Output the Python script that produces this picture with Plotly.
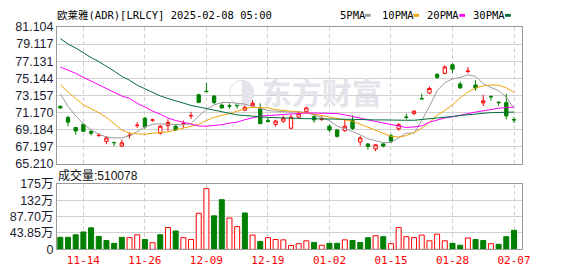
import plotly.graph_objects as go

# ---------------- data ----------------
dates = ["11-11", "11-12", "11-13", "11-14", "11-15", "11-18", "11-19", "11-20", "11-21", "11-22",
         "11-25", "11-26", "11-27", "11-29", "12-02", "12-03", "12-04", "12-05", "12-06", "12-09",
         "12-10", "12-11", "12-12", "12-13", "12-16", "12-17", "12-18", "12-19", "12-20", "12-23",
         "12-24", "12-26", "12-27", "12-30", "12-31", "01-02", "01-03", "01-06", "01-07", "01-08",
         "01-10", "01-13", "01-14", "01-15", "01-16", "01-17", "01-21", "01-22", "01-23", "01-24",
         "01-27", "01-28", "01-29", "01-30", "01-31", "02-03", "02-04", "02-05", "02-06", "02-07"]

open_ = [71.90, 70.62, 69.45, 69.82, 68.98, 68.52, 67.84, 67.72, 67.30, 68.52,
         69.68, 70.51, 70.30, 68.79, 69.67, 69.60, 69.87, 70.80, 73.25, 73.65,
         73.10, 72.05, 71.96, 72.10, 71.46, 71.97, 71.64, 70.25, 69.81, 70.18,
         69.37, 70.65, 71.28, 70.70, 70.36, 69.60, 69.16, 69.09, 70.26, 67.77,
         67.55, 66.97, 67.55, 68.50, 69.30, 70.66, 71.06, 72.80, 73.43, 75.62,
         75.73, 76.72, 74.49, 75.95, 74.38, 72.30, 73.05, 72.37, 72.33, 70.37]
high = [72.00, 70.80, 69.52, 69.96, 69.16, 68.79, 68.43, 67.74, 68.06, 68.87,
        70.07, 70.70, 70.47, 69.78, 70.40, 69.74, 70.26, 71.28, 73.36, 74.64,
        73.18, 72.23, 72.26, 72.26, 72.08, 72.63, 72.26, 70.55, 70.35, 70.80,
        70.91, 71.36, 71.94, 70.99, 70.80, 69.82, 69.30, 70.33, 70.88, 68.43,
        67.62, 67.51, 67.66, 68.72, 69.96, 71.06, 71.42, 73.36, 74.20, 75.73,
        76.68, 76.90, 74.75, 76.46, 74.93, 73.25, 73.18, 72.52, 73.36, 70.70]
low = [71.64, 69.60, 68.61, 68.98, 68.54, 68.36, 67.51, 67.30, 67.19, 68.17,
       69.41, 69.30, 70.11, 68.61, 69.05, 69.05, 69.41, 70.44, 72.26, 73.54,
       72.15, 71.64, 71.64, 71.64, 71.35, 71.79, 69.85, 70.02, 69.55, 69.99,
       69.26, 70.47, 71.06, 70.00, 70.26, 68.94, 68.28, 68.98, 69.16, 67.33,
       66.89, 66.71, 67.15, 67.62, 69.08, 70.40, 70.91, 72.74, 73.32, 75.08,
       75.62, 75.73, 73.91, 75.73, 73.72, 71.94, 72.55, 71.97, 70.40, 69.96]
close = [71.72, 70.07, 69.05, 69.01, 68.79, 68.55, 68.25, 67.70, 67.67, 68.55,
         69.71, 69.52, 70.33, 69.60, 70.04, 69.16, 69.89, 70.84, 72.37, 73.61,
         72.34, 71.72, 71.93, 71.97, 71.79, 72.26, 69.89, 70.15, 70.20, 70.54,
         70.65, 71.09, 71.72, 70.33, 70.40, 69.16, 68.43, 69.60, 69.34, 68.25,
         67.26, 67.44, 67.30, 67.88, 69.78, 70.62, 71.35, 72.77, 73.98, 75.26,
         76.46, 76.21, 74.05, 75.99, 74.02, 72.55, 73.00, 72.33, 70.80, 70.33]
volume = [322000, 322000, 390000, 466000, 576000, 347000, 237000, 161000, 322000, 313000,
          390000, 263000, 178000, 390000, 584000, 491000, 313000, 263000, 966000, 1626000,
          898000, 1330000, 839000, 610000, 974000, 381000, 212000, 313000, 263000, 254000,
          102000, 152000, 229000, 186000, 110000, 161000, 161000, 254000, 237000, 186000,
          313000, 364000, 339000, 152000, 584000, 339000, 313000, 381000, 229000, 407000,
          229000, 161000, 110000, 305000, 263000, 237000, 152000, 136000, 339000, 510078]

ma5 = [73.36, 71.90, 70.80, 69.89, 69.16, 68.68, 68.36, 68.25, 68.25, 68.50,
       68.98, 69.52, 69.82, 69.89, 69.82, 69.82, 69.78, 69.89, 70.80, 71.53,
       72.08, 72.34, 72.37, 72.26, 72.15, 71.90, 71.64, 71.42, 71.35, 71.28,
       71.24, 71.28, 71.17, 70.91, 70.62, 70.26, 69.60, 69.34, 68.98, 68.61,
       68.14, 67.88, 67.70, 67.70, 68.25, 68.79, 68.79, 70.26, 71.90, 73.72,
       74.64, 75.08, 75.26, 75.55, 75.37, 74.53, 74.09, 73.72, 72.99, 71.64]
ma10 = [74.38, 73.54, 72.81, 72.08, 71.64, 71.17, 70.62, 69.89, 69.16, 68.79,
        68.72, 68.65, 68.79, 68.87, 68.94, 69.16, 69.38, 69.60, 69.82, 70.26,
        70.62, 70.87, 71.06, 71.35, 71.64, 71.79, 71.79, 71.72, 71.53, 71.42,
        71.28, 71.24, 71.17, 70.99, 70.84, 70.62, 70.44, 70.33, 70.18, 69.82,
        69.52, 69.16, 68.79, 68.43, 68.36, 68.50, 68.87, 69.34, 70.07, 70.87,
        71.42, 72.08, 72.89, 73.54, 74.02, 74.27, 74.38, 74.35, 74.05, 73.54]
ma20 = [76.46, 76.10, 75.73, 75.26, 74.82, 74.46, 73.98, 73.54, 73.10, 72.81,
        72.26, 71.83, 71.35, 70.99, 70.55, 70.26, 70.07, 69.82, 69.63, 69.60,
        69.67, 69.78, 69.96, 70.07, 70.36, 70.55, 70.77, 70.84, 70.91, 70.99,
        71.06, 71.10, 71.13, 71.13, 71.13, 71.10, 71.06, 70.91, 70.77, 70.55,
        70.33, 70.15, 70.00, 69.82, 69.60, 69.45, 69.52, 69.63, 70.07, 70.33,
        70.55, 70.69, 70.84, 71.06, 71.24, 71.42, 71.53, 71.68, 71.79, 71.83]
ma30 = [79.75, 79.13, 78.66, 78.07, 77.56, 77.09, 76.57, 75.99, 75.37, 74.93,
        74.35, 73.91, 73.47, 73.11, 72.81, 72.52, 72.26, 72.01, 71.83, 71.64,
        71.46, 71.28, 71.06, 70.91, 70.84, 70.73, 70.69, 70.62, 70.58, 70.55,
        70.51, 70.51, 70.47, 70.47, 70.44, 70.40, 70.40, 70.40, 70.40, 70.36,
        70.36, 70.33, 70.33, 70.29, 70.29, 70.29, 70.29, 70.36, 70.47, 70.55,
        70.66, 70.73, 70.84, 70.95, 71.02, 71.10, 71.17, 71.20, 71.24, 71.24]

price_tick_labels = ["81.104", "79.117", "77.131", "75.144", "73.157",
                     "71.170", "69.184", "67.197", "65.210"]
vol_tick_values = [0, 438500, 877000, 1315500, 1754000]
vol_tick_labels = ["0", "43.85万", "87.70万", "132万", "175万"]
date_tick_index = [3, 11, 19, 27, 35, 43, 51, 59]
ma_names = ["5PMA", "10PMA", "20PMA", "30PMA"]
stock_title = "欧莱雅(ADR)[LRLCY] 2025-02-08 05:00"
volume_label = "成交量:510078"
watermark = "东方财富"

# ---------------- styling ----------------
RED = "#ff0000"
GREEN = "#008000"
MA_COLORS = ["#9b9b9b", "#f0a30a", "#ff00ff", "#00703a"]
GRID = "#d0d0d0"
FRAME = "#999999"
MONO = "DejaVu Sans Mono, Noto Sans CJK SC"
SANS = "Liberation Sans, Arial, Noto Sans CJK SC"

W, H = 578, 276
L, R = 57, 56
x_idx = list(range(len(dates)))

def px_x(p):
    return (p - L) / (W - L - R)

def px_y(p):
    return 1 - p / H

fig = go.Figure()

# watermark (beneath everything)
fig.add_trace(go.Scatter(
    x=[34.0, 23.6], y=[73.0, 73.0], mode="text", text=["<b>" + watermark + "</b>", "<b>◑</b>"],
    textfont=dict(family="Noto Sans CJK SC", size=[30, 28], color="#e4e4ea"),
    hoverinfo="skip", showlegend=False, xaxis="x", yaxis="y"))

for name, vals, col in zip(ma_names, [ma5, ma10, ma20, ma30], MA_COLORS):
    fig.add_trace(go.Scatter(
        x=x_idx, y=vals, mode="lines", name=name,
        line=dict(color=col, width=1), showlegend=False,
        xaxis="x", yaxis="y"))

fig.add_trace(go.Candlestick(
    x=x_idx, open=open_, high=high, low=low, close=close,
    increasing=dict(line=dict(color=RED, width=1), fillcolor="#ffffff"),
    decreasing=dict(line=dict(color=GREEN, width=1), fillcolor=GREEN),
    whiskerwidth=0, showlegend=False, xaxis="x", yaxis="y"))

up = [(close[i] >= close[i - 1]) if i > 0 else (close[i] >= open_[i]) for i in range(len(close))]
fig.add_trace(go.Bar(
    x=x_idx, y=volume,
    marker=dict(color=["#ffffff" if u else GREEN for u in up],
                line=dict(color=[RED if u else GREEN for u in up], width=1)),
    showlegend=False, xaxis="x2", yaxis="y2"))

price_vals = [float(t) for t in price_tick_labels]
x_range = [-0.43, 60.04]

common_x = dict(range=x_range, showgrid=True, gridcolor=GRID, griddash="4px,3px",
                gridwidth=1, tickvals=date_tick_index, zeroline=False,
                showline=True, linecolor=FRAME, linewidth=1, mirror=True, ticks="")
fig.update_layout(
    width=W, height=H,
    margin=dict(l=L, r=R, t=0, b=0),
    paper_bgcolor="#ffffff", plot_bgcolor="#ffffff",
    boxgap=0.38, bargap=0.35,
    xaxis=dict(**common_x, domain=[0, 1], anchor="y", showticklabels=False,
               rangeslider=dict(visible=False)),
    xaxis2=dict(**common_x, domain=[0, 1], anchor="y2", matches="x",
                ticktext=[dates[i] for i in date_tick_index],
                tickfont=dict(family=MONO, size=11, color=RED)),
    yaxis=dict(domain=[px_y(165.5), px_y(21)], range=[price_vals[-1], price_vals[0]],
               tickvals=price_vals, ticktext=price_tick_labels,
               tickfont=dict(family=SANS, size=12.5, color="#1c1c30"),
               showgrid=True, gridcolor=GRID, gridwidth=1, zeroline=False,
               showline=True, linecolor=FRAME, linewidth=1, mirror=True, ticks=""),
    yaxis2=dict(domain=[px_y(255.3), px_y(186.3)], range=[0, vol_tick_values[-1]],
                tickvals=vol_tick_values, ticktext=vol_tick_labels,
                tickfont=dict(family=SANS, size=12.5, color="#1c1c30"),
                showgrid=True, gridcolor=GRID, gridwidth=1, zeroline=False,
                showline=True, linecolor=FRAME, linewidth=1, mirror=True, ticks=""),
)

annotations = []
annotations.append(dict(
    xref="paper", yref="paper", x=px_x(55), y=px_y(8.5), xanchor="left", yanchor="middle",
    text=stock_title, showarrow=False,
    font=dict(family=MONO, size=10.5, color="#000000")))
annotations.append(dict(
    xref="paper", yref="paper", x=px_x(55.5), y=px_y(177.5), xanchor="left", yanchor="middle",
    text=volume_label, showarrow=False,
    font=dict(family=SANS, size=12, color="#111111")))

legend_text_x = [337.5, 379.5, 425, 471]
legend_sq_x = [365, 413.3, 459.3, 505]
shapes = []
for name, tx, sx, col in zip(ma_names, legend_text_x, legend_sq_x, MA_COLORS):
    annotations.append(dict(
        xref="paper", yref="paper", x=px_x(tx), y=px_y(8.5), xanchor="left", yanchor="middle",
        text=name, showarrow=False,
        font=dict(family=MONO, size=10.5, color="#000000")))
    shapes.append(dict(type="rect", xref="paper", yref="paper",
                       x0=px_x(sx), x1=px_x(sx + 5.7), y0=px_y(10.3), y1=px_y(7.3),
                       fillcolor=col, line=dict(width=0)))

fig.update_layout(annotations=annotations, shapes=shapes)
fig.write_html("out.html")
